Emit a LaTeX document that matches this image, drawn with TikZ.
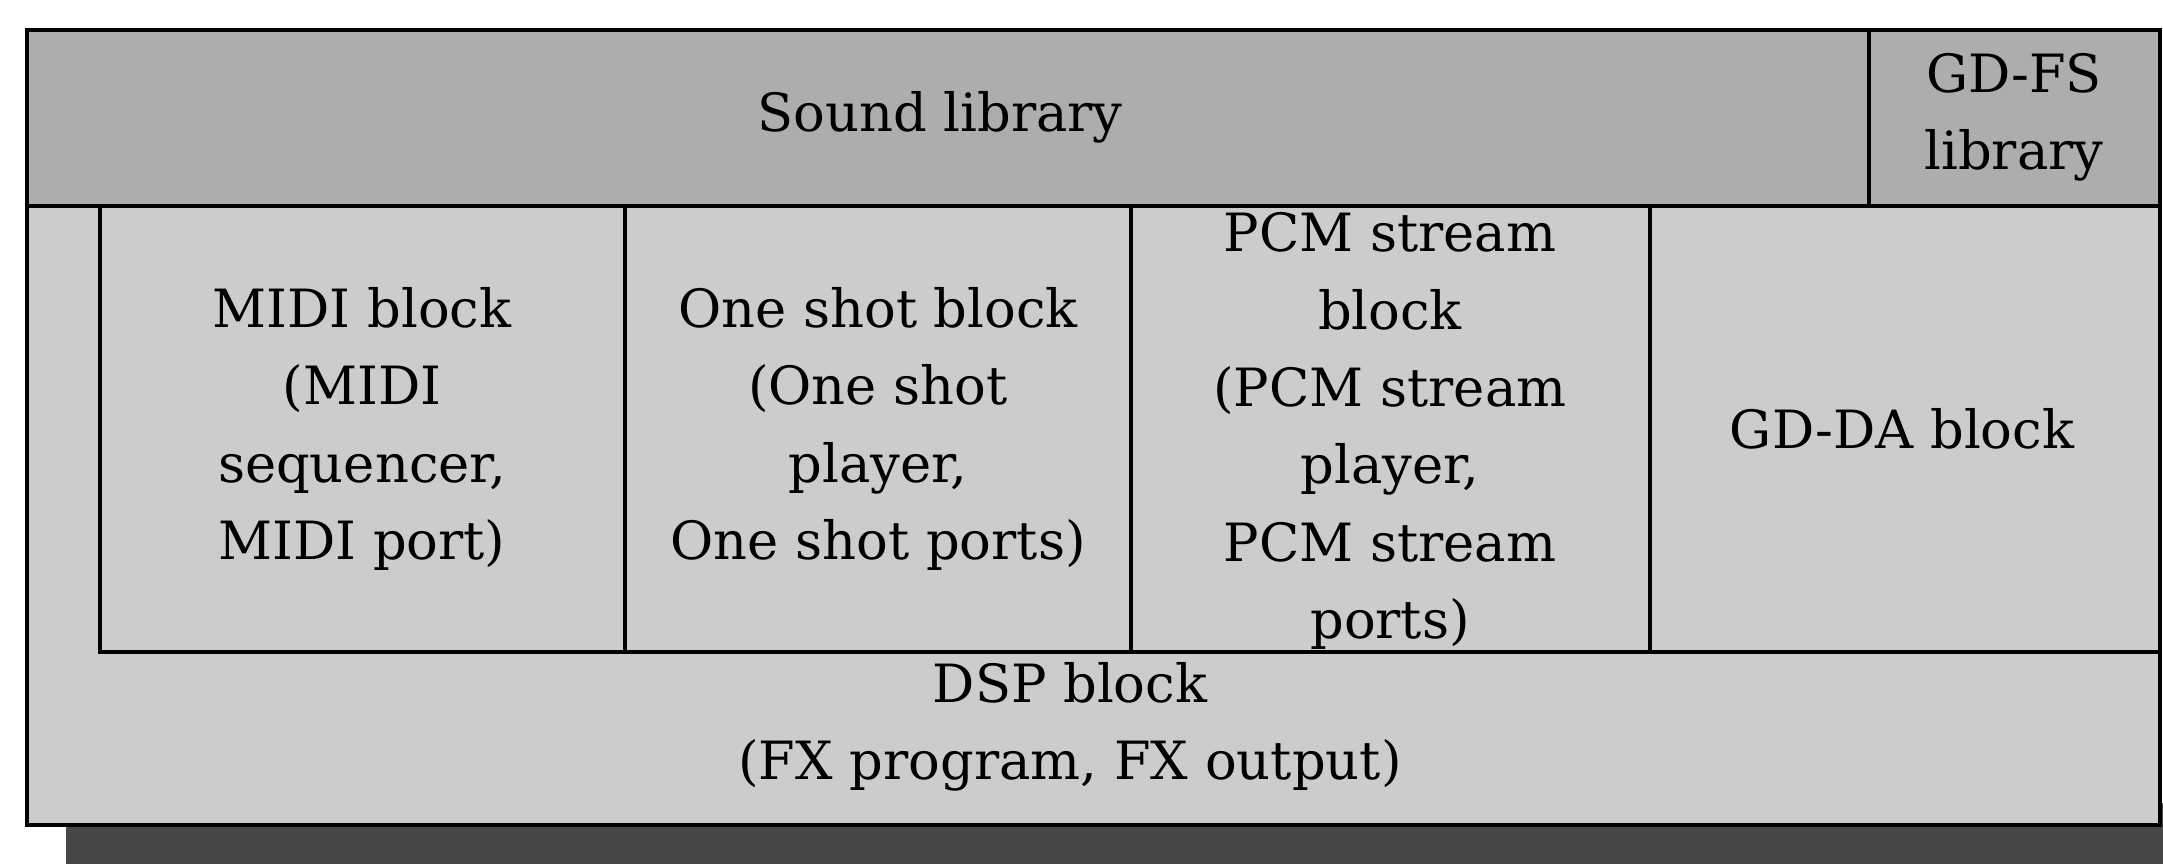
\documentclass[tikz,border=0pt]{standalone}
\usepackage{fontspec}
\setmainfont{DejaVu Serif}
\definecolor{libgray}{gray}{0.68}
\definecolor{blockgray}{gray}{0.80}
\definecolor{shadowgray}{gray}{0.28}
\tikzset{
  blocktext/.style={align=center,font=\fontsize{15pt}{22pt}\selectfont},
  frame/.style={draw=black,line width=1pt}
}
\begin{document}
\begin{tikzpicture}[x=1cm,y=1cm]
\clip (0,0) rectangle (21.63,8.63);
\useasboundingbox (0,0) rectangle (21.63,8.63);
\fill[white] (0,0) rectangle (21.63,8.63);
% drop shadow
\fill[shadowgray] (0.66,-0.5) rectangle (22.5,0.6);
% library row
\draw[frame,fill=libgray] (0.27,6.57) rectangle (18.69,8.33);
\node[blocktext] (sound) at (9.40,7.46) {Sound library};
\draw[frame,fill=libgray] (18.69,6.57) rectangle (21.60,8.33);
\node[blocktext] (gdfs) at (20.14,7.46) {GD-FS\\ library};
% DSP block round the player blocks
\draw[frame,fill=blockgray] (0.27,0.38) rectangle (21.60,6.57);
\node[blocktext] (dsp) at (10.70,1.36) {DSP block\\ (FX program, FX output)};
% player blocks
\draw[frame,fill=blockgray] (1.00,2.11) rectangle (6.25,6.57);
\node[blocktext] (midi) at (3.62,4.34) {MIDI block\\ (MIDI\\ sequencer,\\ MIDI port)};
\draw[frame,fill=blockgray] (6.25,2.11) rectangle (11.31,6.57);
\node[blocktext] (oneshot) at (8.78,4.34) {One shot block\\ (One shot\\ player,\\ One shot ports)};
\draw[frame,fill=blockgray] (11.31,2.11) rectangle (16.50,6.57);
\node[blocktext] (pcm) at (13.90,4.32) {PCM stream\\ block\\ (PCM stream\\ player,\\ PCM stream\\ ports)};
\draw[frame,fill=blockgray] (16.50,2.11) rectangle (21.60,6.57);
\node[blocktext] (gdda) at (19.02,4.34) {GD-DA block};
\end{tikzpicture}
\end{document}
